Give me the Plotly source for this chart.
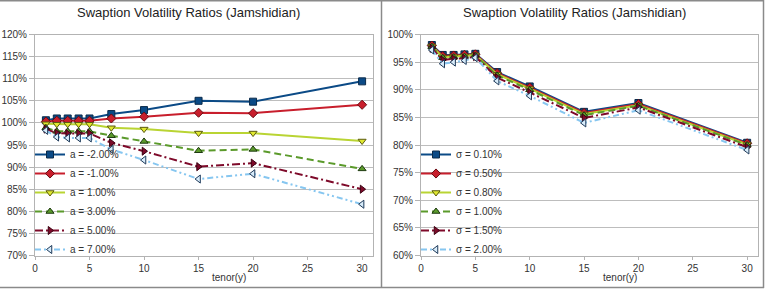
import plotly.graph_objects as go

W, H = 766, 292

tenor = [1, 2, 3, 4, 5, 7, 10, 15, 20, 30]

# Left chart: varying a (values in %)
left_names = ["a = -2.00%", "a = -1.00%", "a = 1.00%", "a = 3.00%", "a = 5.00%", "a = 7.00%"]
a_m200 = [100.6, 101.0, 101.0, 101.0, 101.0, 102.0, 102.9, 105.0, 104.8, 109.4]
a_m100 = [100.3, 100.5, 100.5, 100.5, 100.5, 101.0, 101.4, 102.3, 102.2, 104.1]
a_p100 = [99.8, 99.7, 99.7, 99.7, 99.7, 98.9, 98.6, 97.7, 97.7, 95.9]
a_p300 = [98.9, 98.1, 98.1, 98.1, 98.1, 97.1, 95.8, 93.7, 94.0, 89.6]
a_p500 = [98.6, 97.7, 97.6, 97.6, 97.6, 95.5, 93.6, 90.1, 90.9, 85.0]
a_p700 = [98.3, 96.8, 96.6, 96.6, 96.6, 94.0, 91.6, 87.3, 88.5, 81.6]
left_series = [a_m200, a_m100, a_p100, a_p300, a_p500, a_p700]

# Right chart: varying sigma (values in %)
right_names = ["σ = 0.10%", "σ = 0.50%", "σ = 0.80%", "σ = 1.00%", "σ = 1.50%", "σ = 2.00%"]
s_010 = [98.1, 96.3, 96.3, 96.4, 96.5, 93.2, 90.6, 86.0, 87.6, 80.4]
s_050 = [98.0, 96.1, 96.2, 96.3, 96.4, 93.0, 90.4, 85.8, 87.4, 80.3]
s_080 = [97.9, 95.9, 96.0, 96.1, 96.3, 92.8, 90.2, 85.6, 87.2, 80.1]
s_100 = [97.8, 95.8, 95.9, 96.0, 96.2, 92.6, 90.0, 85.4, 87.1, 80.0]
s_150 = [97.5, 95.4, 95.6, 95.7, 96.0, 92.2, 89.5, 84.9, 86.8, 79.6]
s_200 = [97.2, 94.7, 95.0, 95.3, 95.8, 91.6, 88.9, 84.0, 86.3, 79.1]
right_series = [s_010, s_050, s_080, s_100, s_150, s_200]

title_text = "Swaption Volatility Ratios (Jamshidian)"
x_title = "tenor(y)"

colors = ["#0b4a86", "#c81e2c", "#b9d433", "#5b9a2b", "#7e0a2a", "#86c6f0"]
edge = ["#0a2a4a", "#6a0a12", "#5a5a10", "#1e3a10", "#3a0010", "#1e3a5a"]
symbols = ["square", "diamond", "triangle-down", "triangle-up", "triangle-right", "triangle-left"]
fills = ["#0b4a86", "#c81e2c", "#e0e830", "#5b9a2b", "#7e0a2a", "#d8ecfa"]
dashes = ["solid", "solid", "solid", "7px,4px",
          "8px,3px,2px,3px", "6px,3px,2px,3px,2px,3px"]

fig = go.Figure()

def px_x(p):
    return p / W

def px_y(p):
    return 1 - p / H

for i, (nm, ys) in enumerate(zip(left_names, left_series)):
    fig.add_trace(go.Scatter(
        x=tenor, y=ys, name=nm, mode="lines+markers",
        xaxis="x", yaxis="y", legend="legend",
        line=dict(color=colors[i], width=2, dash=dashes[i]),
        marker=dict(symbol=symbols[i], size=7,
                    color=fills[i], line=dict(color=edge[i], width=1)),
    ))

for i, (nm, ys) in enumerate(zip(right_names, right_series)):
    fig.add_trace(go.Scatter(
        x=tenor, y=ys, name=nm, mode="lines+markers",
        xaxis="x2", yaxis="y2", legend="legend2",
        line=dict(color=colors[i], width=2, dash=dashes[i]),
        marker=dict(symbol=symbols[i], size=7,
                    color=fills[i], line=dict(color=edge[i], width=1)),
    ))

axis_common = dict(
    showline=True, linecolor="#b3b3b3", linewidth=1, mirror=True,
    ticks="outside", tickcolor="#b3b3b3",
    tickfont=dict(family="Liberation Sans, Arial, sans-serif", size=10, color="#333333"),
    zeroline=False, automargin=False,
)

top_px, bot_px = 34.5, 255.5

fig.update_layout(
    width=W, height=H,
    margin=dict(l=0, r=0, t=0, b=0, pad=0, autoexpand=False),
    paper_bgcolor="white", plot_bgcolor="white",
    font=dict(family="Liberation Sans, Arial, sans-serif", color="#333333"),
    showlegend=True,
    xaxis=dict(domain=[px_x(35), px_x(373)], range=[0, 31], tickvals=[0, 5, 10, 15, 20, 25, 30],
               showgrid=False, anchor="y", ticklen=3, **axis_common),
    yaxis=dict(domain=[px_y(bot_px), px_y(top_px)], range=[70, 120], dtick=5, ticksuffix="%",
               showgrid=True, gridcolor="#bdbdbd", gridwidth=1, anchor="x", ticklen=5, **axis_common),
    xaxis2=dict(domain=[px_x(421), px_x(758)], range=[0, 31], tickvals=[0, 5, 10, 15, 20, 25, 30],
                showgrid=False, anchor="y2", ticklen=3, **axis_common),
    yaxis2=dict(domain=[px_y(bot_px), px_y(top_px)], range=[60, 100], dtick=5, ticksuffix="%",
                showgrid=True, gridcolor="#bdbdbd", gridwidth=1, anchor="x2", ticklen=5, **axis_common),
    legend=dict(x=px_x(30), y=px_y(140), xanchor="left", yanchor="top",
                bgcolor="rgba(0,0,0,0)", font=dict(size=10, color="#333333"),
                itemwidth=30, tracegroupgap=0),
    legend2=dict(x=px_x(416), y=px_y(140), xanchor="left", yanchor="top",
                 bgcolor="rgba(0,0,0,0)", font=dict(size=10, color="#333333"),
                 itemwidth=30, tracegroupgap=0),
)

# Titles and axis titles
for cx, tx in [(188, title_text), (574, title_text)]:
    fig.add_annotation(x=px_x(cx), y=px_y(13), xref="paper", yref="paper",
                       text=tx, showarrow=False, xanchor="center", yanchor="middle",
                       font=dict(size=13, color="#222222"))
for cx in [229, 620]:
    fig.add_annotation(x=px_x(cx), y=px_y(277), xref="paper", yref="paper",
                       text=x_title, showarrow=False, xanchor="center", yanchor="middle",
                       font=dict(size=10, color="#333333"))

# Panel borders
border = dict(color="#8a8a8a", width=1.5)
for (x0, y0, x1, y1) in [(0, 0.75, 764, 0.75), (0, 287.5, 764, 287.5),
                         (381.5, 0, 381.5, 288), (763.5, 0, 763.5, 288)]:
    fig.add_shape(type="line", xref="paper", yref="paper",
                  x0=px_x(x0), x1=px_x(x1), y0=px_y(y0), y1=px_y(y1), line=border)

fig.write_html("out.html")
